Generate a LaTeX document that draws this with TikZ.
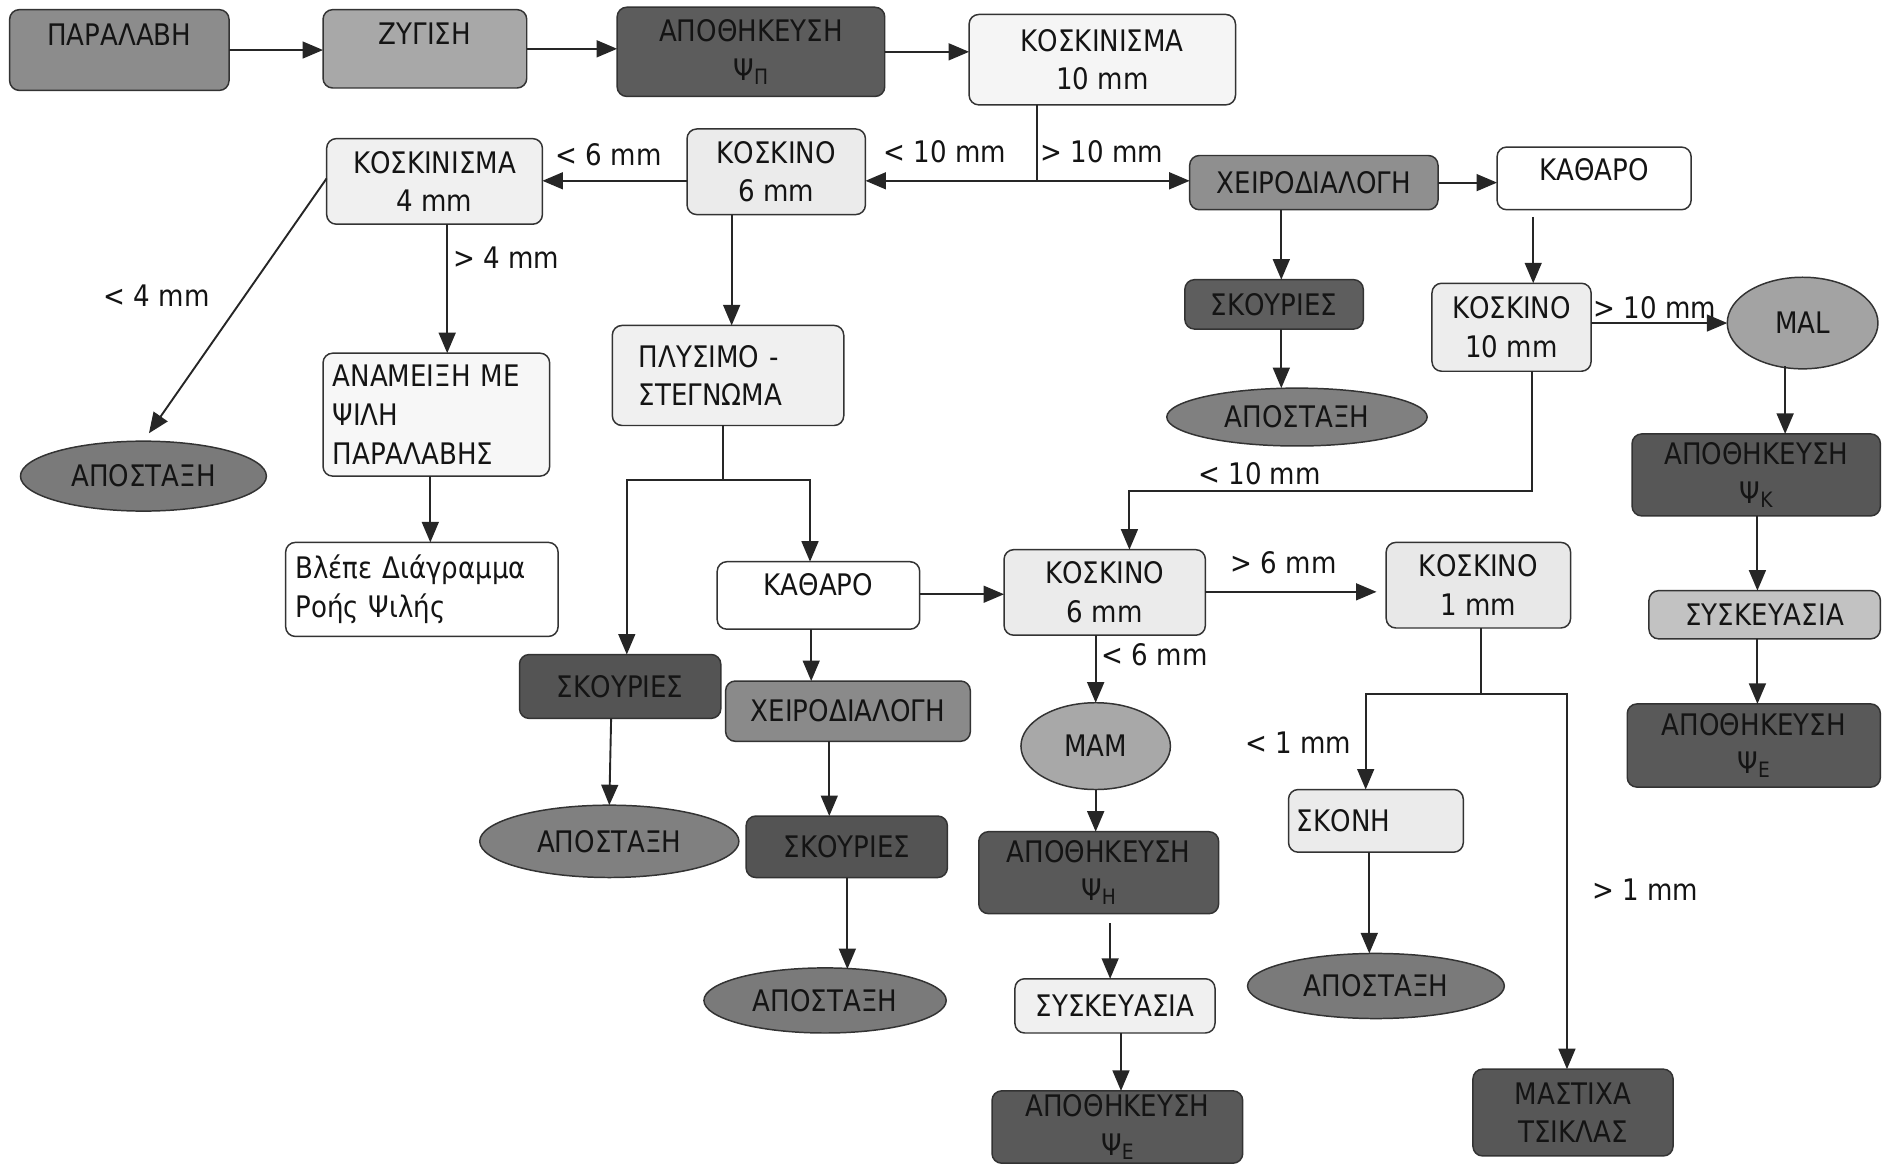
\documentclass[tikz,border=0pt]{standalone}
\usepackage{fontspec}
\setmainfont{DejaVu Sans}[FakeStretch=0.88]
\usetikzlibrary{arrows.meta,shapes.geometric}
\newcommand{\bx}[7]{\node[#6, minimum width={(#4-#2)*0.02cm}, minimum height={(#5-#3)*0.02cm}] (#1) at ({(#2+#4)/2},{(#3+#5)/2}) {#7};}
\newcommand{\ps}[1]{Ψ\raisebox{-0.25ex}{\fontsize{10}{10}\selectfont #1}}
\begin{document}
\begin{tikzpicture}[x=0.02cm, y=-0.02cm, font=\fontsize{14}{18.2}\selectfont,
  box/.style={draw=black!80, line width=0.7pt, rounded corners=0.16cm, inner sep=0pt, outer sep=0pt, align=center, text=black!92},
  ell/.style={draw=black!80, line width=0.7pt, ellipse, inner sep=0pt, outer sep=0pt, align=center, text=black!92},
  arr/.style={draw=black!85, line width=0.9pt, -{Triangle[length=0.34cm,width=0.28cm]}},
  ln/.style={draw=black!85, line width=0.9pt},
  lbl/.style={inner sep=0pt, text=black!92},
  up/.style={text depth=#1}]
\useasboundingbox (0,0) rectangle (1568,967);
% ---------- row 1
\bx{n1}{8}{8}{190}{75}{box, fill=black!45, up=14.8pt}{ΠΑΡΑΛΑΒΗ}
\bx{n2}{268}{8}{437}{73}{box, fill=black!34, up=14.2pt}{ΖΥΓΙΣΗ}
\bx{n3}{512}{6}{734}{80}{box, fill=black!64}{ΑΠΟΘΗΚΕΥΣΗ\\\ps{Π}}
\bx{n4}{804}{12}{1025}{87}{box, fill=black!4}{ΚΟΣΚΙΝΙΣΜΑ\\10 mm}
% ---------- row 2
\bx{n5}{271}{115}{450}{186}{box, fill=black!6}{ΚΟΣΚΙΝΙΣΜΑ\\4 mm}
\bx{n6}{570}{107}{718}{178}{box, fill=black!8}{ΚΟΣΚΙΝΟ\\6 mm}
\bx{n7}{987}{129}{1193}{174}{box, fill=black!44}{ΧΕΙΡΟΔΙΑΛΟΓΗ}
\bx{n8}{1242}{122}{1403}{174}{box, fill=white, up=8pt}{ΚΑΘΑΡΟ}
% ---------- right upper
\bx{n9}{983}{232}{1131}{273}{box, fill=black!63}{ΣΚΟΥΡΙΕΣ}
\bx{n10}{968}{322}{1184}{370}{ell, fill=black!50}{ΑΠΟΣΤΑΞΗ}
\bx{n11}{1188}{235}{1320}{308}{box, fill=black!7}{ΚΟΣΚΙΝΟ\\10 mm}
\bx{n12}{1433}{230}{1558}{306}{ell, fill=black!36}{MAL}
\bx{n13}{1354}{360}{1560}{428}{box, fill=black!66}{ΑΠΟΘΗΚΕΥΣΗ\\\ps{Κ}}
\bx{n33}{1368}{490}{1560}{530}{box, fill=black!24}{ΣΥΣΚΕΥΑΣΙΑ}
\bx{n34}{1350}{584}{1560}{653}{box, fill=black!65}{ΑΠΟΘΗΚΕΥΣΗ\\\ps{Ε}}
% ---------- left
\bx{n14}{17}{366}{221}{424}{ell, fill=black!52}{ΑΠΟΣΤΑΞΗ}
\bx{n15}{268}{293}{456}{395}{box, fill=black!3, align=left, inner xsep=0.16cm, text width=3.44cm}{ΑΝΑΜΕΙΞΗ ΜΕ\\ΨΙΛΗ\\ΠΑΡΑΛΑΒΗΣ}
\bx{n16}{237}{450}{463}{528}{box, fill=white, align=left, inner xsep=0.16cm, text width=4.2cm}{Βλέπε Διάγραμμα\\Ροής Ψιλής}
\bx{n17}{508}{270}{700}{353}{box, fill=black!6, align=left, inner xsep=0.44cm, text width=2.96cm}{ΠΛΥΣΙΜΟ -\\ΣΤΕΓΝΩΜΑ}
% ---------- middle
\bx{n18}{595}{466}{763}{522}{box, fill=white, up=10pt}{ΚΑΘΑΡΟ}
\bx{n19}{431}{543}{598}{596}{box, fill=black!67}{ΣΚΟΥΡΙΕΣ}
\bx{n20}{602}{565}{805}{615}{box, fill=black!46}{ΧΕΙΡΟΔΙΑΛΟΓΗ}
\bx{n21}{398}{668}{613}{728}{ell, fill=black!50}{ΑΠΟΣΤΑΞΗ}
\bx{n22}{619}{677}{786}{728}{box, fill=black!67}{ΣΚΟΥΡΙΕΣ}
\bx{n23}{584}{803}{785}{857}{ell, fill=black!52}{ΑΠΟΣΤΑΞΗ}
\bx{n24}{833}{456}{1000}{527}{box, fill=black!8}{ΚΟΣΚΙΝΟ\\6 mm}
\bx{n25}{1150}{450}{1303}{521}{box, fill=black!9}{ΚΟΣΚΙΝΟ\\1 mm}
\bx{n26}{847}{583}{971}{655}{ell, fill=black!34}{MAM}
\bx{n27}{812}{690}{1011}{758}{box, fill=black!65}{ΑΠΟΘΗΚΕΥΣΗ\\\ps{Η}}
\bx{n28}{842}{812}{1008}{857}{box, fill=black!6}{ΣΥΣΚΕΥΑΣΙΑ}
\bx{n29}{823}{905}{1031}{965}{box, fill=black!65}{ΑΠΟΘΗΚΕΥΣΗ\\\ps{Ε}}
\bx{n30}{1069}{655}{1214}{707}{box, fill=black!8, align=left, inner xsep=0.14cm, text width=2.62cm}{ΣΚΟΝΗ}
\bx{n31}{1035}{791}{1248}{845}{ell, fill=black!52}{ΑΠΟΣΤΑΞΗ}
\bx{n32}{1222}{887}{1388}{959}{box, fill=black!66}{ΜΑΣΤΙΧΑ\\ΤΣΙΚΛΑΣ}
% ---------- labels
\node[lbl] (l1) at (505,128) {< 6 mm};
\node[lbl] (l2) at (784,126) {< 10 mm};
\node[lbl] (l3) at (914,126) {> 10 mm};
\node[lbl] (l4) at (420,214) {> 4 mm};
\node[lbl] (l5) at (130,245) {< 4 mm};
\node[lbl] (l6) at (1373,255) {> 10 mm};
\node[lbl] (l7) at (1045,393) {< 10 mm};
\node[lbl] (l8) at (1065,467) {> 6 mm};
\node[lbl] (l9) at (958,543) {< 6 mm};
\node[lbl] (l10) at (1077,616) {< 1 mm};
\node[lbl] (l11) at (1365,738) {> 1 mm};
% ---------- connectors
\draw[arr] (n1.east) -- (n1.east -| n2.west);
\draw[arr] (n2.east) -- (n2.east -| n3.west);
\draw[arr] (n3.east) -- (n3.east -| n4.west);
\coordinate (j1) at (860,150);
\draw[ln] (860,0 |- n4.south) -- (j1);
\draw[arr] (j1) -- (j1 -| n6.east);
\draw[arr] (j1) -- (j1 -| n7.west);
\draw[arr] (n6.west |- 0,150) -- (n5.east |- 0,150);
\draw[arr] (371,0 |- n5.south) -- (371,0 |- n15.north);
\draw[arr, shorten >=0.16cm] (n5.west |- 0,148) -- (n14.north);
\draw[arr] (607,0 |- n6.south) -- (607,0 |- n17.north);
\draw[arr] (1063,0 |- n7.south) -- (1063,0 |- n9.north);
\draw[arr] (n7.east) -- (n7.east -| n8.west);
\draw[arr, shorten <=0.12cm] (1272,0 |- n8.south) -- (1272,0 |- n11.north);
\draw[arr] (1063,0 |- n9.south) -- (1063,0 |- n10.north);
\draw[arr] (n11.east |- n12.west) -- (n12.west);
\draw[arr] (1271,0 |- n11.south) -- (1271,407) -- (937,407) -- (937,0 |- n24.north);
\draw[arr] (1481,304) -- (1481,0 |- n13.north);
\draw[arr] (357,0 |- n15.south) -- (357,0 |- n16.north);
\coordinate (j2) at (600,398);
\draw[ln] (600,0 |- n17.south) -- (j2);
\draw[arr] (j2) -| (520,0 |- n19.north);
\draw[arr] (j2) -| (672,0 |- n18.north);
\draw[arr] (673,0 |- n18.south) -- (673,0 |- n20.north);
\draw[arr] (507,0 |- n19.south) -- (n21.north);
\draw[arr] (688,0 |- n20.south) -- (688,0 |- n22.north);
\draw[arr] (703,0 |- n22.south) -- (703,804);
\draw[arr] (n18.east |- 0,493) -- (n24.west |- 0,493);
\draw[arr, shorten >=0.16cm] (n24.east |- 0,491) -- (n25.west |- 0,491);
\draw[arr] (909,0 |- n24.south) -- (n26.north);
\draw[arr] (n26.south) -- (909,0 |- n27.north);
\draw[arr, shorten <=0.16cm] (921,0 |- n27.south) -- (921,0 |- n28.north);
\draw[arr] (930,0 |- n28.south) -- (930,0 |- n29.north);
\coordinate (j3) at (1229,576);
\draw[ln] (1229,0 |- n25.south) -- (j3);
\draw[arr] (j3) -| (1133,0 |- n30.north);
\draw[arr] (j3) -| (1300,0 |- n32.north);
\draw[arr] (1136,0 |- n30.south) -- (1136,0 |- n31.north);
\draw[arr] (1458,0 |- n13.south) -- (1458,0 |- n33.north);
\draw[arr] (1458,0 |- n33.south) -- (1458,0 |- n34.north);
\end{tikzpicture}
\end{document}
